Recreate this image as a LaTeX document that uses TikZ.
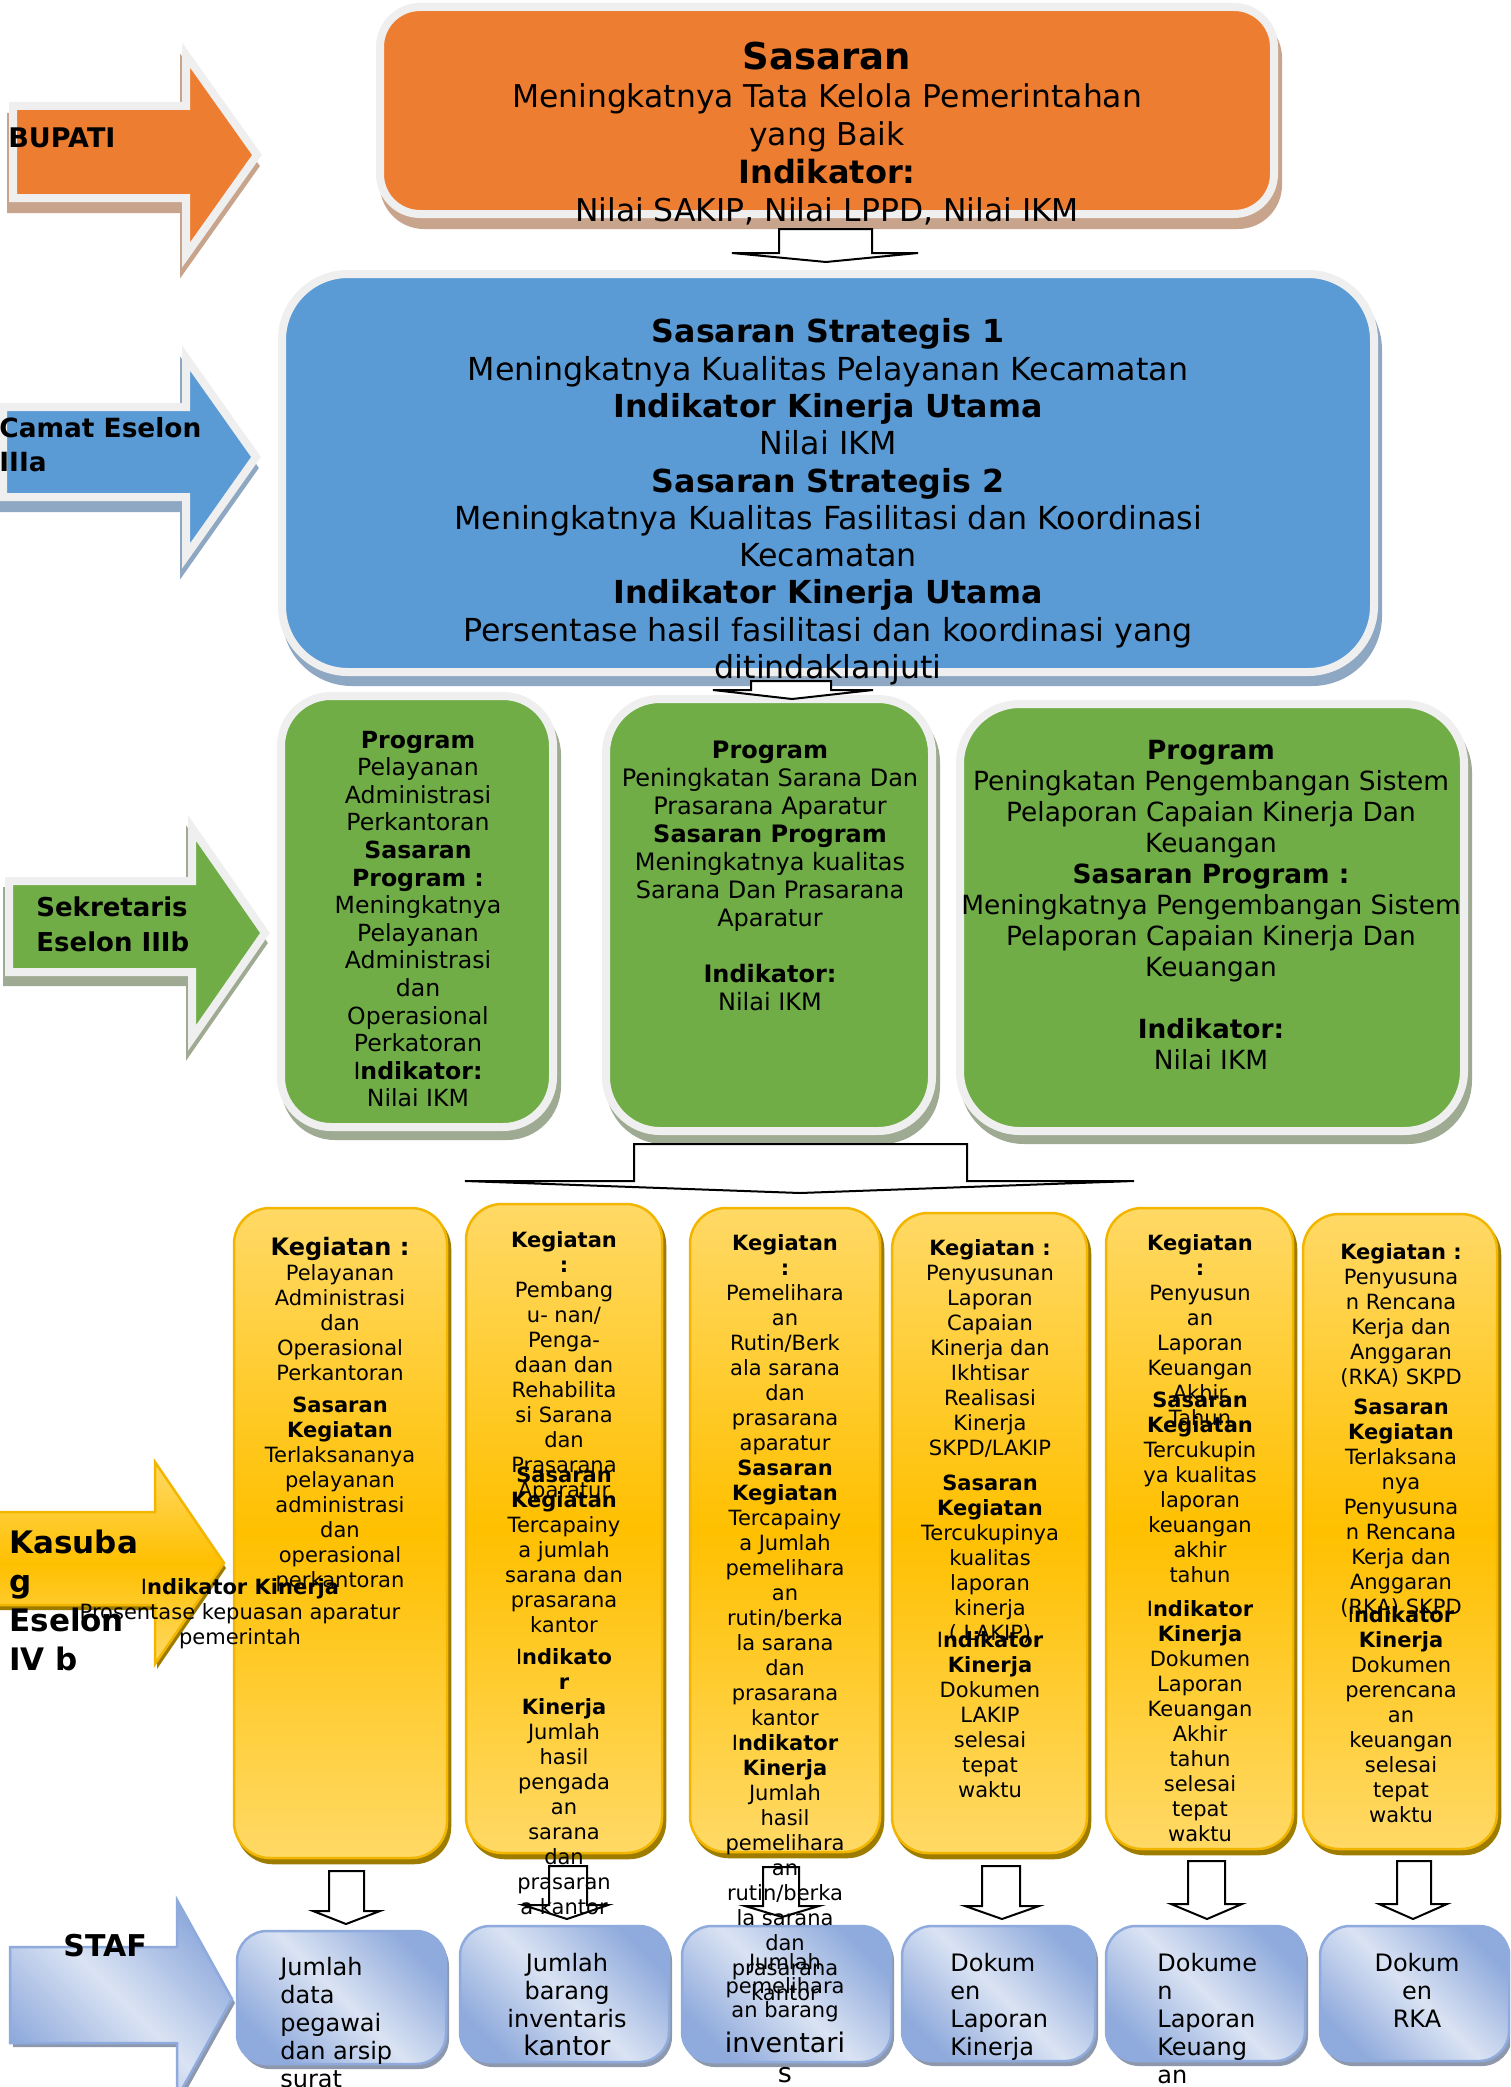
\documentclass[tikz,border=0pt]{standalone}
\usepackage{fontspec}
\setmainfont{DejaVu Sans}
\usetikzlibrary{calc}
\newcommand\fsz[2]{\fontsize{#1}{#2}\selectfont}
\newcommand\fl{\rule{0pt}{.8em}}
\newcommand\rI{{\mdseries I}}
\definecolor{orng}{HTML}{ED7D31}
\definecolor{orngsh}{HTML}{C9A48C}
\definecolor{blu}{HTML}{5B9BD5}
\definecolor{blush}{HTML}{8EA7C2}
\definecolor{grn}{HTML}{70AD47}
\definecolor{grnsh}{HTML}{9EAA92}
\definecolor{lgb}{HTML}{EFEFEF}
\definecolor{ylt}{HTML}{FFD966}
\definecolor{ystr}{HTML}{FFC000}
\definecolor{yedge}{HTML}{F2B600}
\definecolor{ysh}{HTML}{9E7C00}
\definecolor{slt}{HTML}{DAE3F3}
\definecolor{sdk}{HTML}{8FAADC}
\definecolor{ssh}{HTML}{8E98AD}
\tikzset{
  txt/.style={inner sep=0pt, anchor=north, align=center},
  ltxt/.style={inner sep=0pt, anchor=north west, align=left},
  yt/.style={txt, font=\fsz{10.5}{12.5}},
  st/.style={font=\fsz{12}{14}},
  harrow/.style={draw=black, fill=white, line width=1pt, line join=miter},
  lbord/.style={draw=lgb, line width=4pt},
  shad/.style={fill=#1, draw=#1, line width=4pt},
  ybox/.style={top color=ylt, bottom color=ylt, middle color=ystr, draw=yedge, line width=1.25pt, rounded corners=18pt},
  yshad/.style={fill=ysh, draw=ysh, line width=1.25pt, rounded corners=18pt},
  sbox/.style={top color=sdk, bottom color=sdk, middle color=slt, shading angle=-45, draw=sdk, line width=1.25pt, rounded corners=15pt},
  sshad/.style={fill=ssh, rounded corners=15pt},
}
% name, style, x1, y1, x2, y2
\newcommand\rbox[6]{\path[#2] (#3,#4) rectangle (#5,#6); \coordinate (#1) at ({(#3+#5)/2},{(#4+#6)/2});}
% style, x0, bodytop, bodybot, headx, headtop, tipx, tipy
\newcommand\rarrow[8]{\path[#1] (#2,#3) -- (#5,#3) -- (#5,#6) -- (#7,#8) -- (#5,{2*#8-#6}) -- (#5,#4) -- (#2,#4) -- cycle;}
% name, sx1, sx2, top, hy, hx1, hx2, tipx, tipy
\newcommand\darrow[9]{\draw[harrow] (#2,#4) -- (#3,#4) -- (#3,#5) -- (#7,#5) -- (#8,#9) -- (#6,#5) -- (#2,#5) -- cycle; \coordinate (#1) at (#8,#9);}
\begin{document}
\begin{tikzpicture}[x=0.5pt,y=-0.5pt]
\useasboundingbox (0,0) rectangle (1510,2087);
\clip (0,0) rectangle (1510,2087);
\fill[white] (0,0) rectangle (1510,2087);

% ---------- big boxes ----------
\path[shad=orngsh, rounded corners=20pt, shift={(4,11)}] (380,7) rectangle (1274,214);
\rbox{top}{fill=orng, lbord, rounded corners=20pt}{380}{7}{1274}{214}
\path[shad=blush, rounded corners=33pt, shift={(4,10)}] (282,274) rectangle (1374,672);
\rbox{strat}{fill=blu, lbord, rounded corners=33pt}{282}{274}{1374}{672}
\path[shad=grnsh, rounded corners=25pt, shift={(4,9)}] (281,696) rectangle (553,1127);
\rbox{g1}{fill=grn, lbord, rounded corners=25pt}{281}{696}{553}{1127}
\path[shad=grnsh, rounded corners=27pt, shift={(4,9)}] (606,699) rectangle (932,1131);
\rbox{g2}{fill=grn, lbord, rounded corners=27pt}{606}{699}{932}{1131}
\path[shad=grnsh, rounded corners=30pt, shift={(4,9)}] (960,704) rectangle (1464,1131);
\rbox{g3}{fill=grn, lbord, rounded corners=30pt}{960}{704}{1464}{1131}

% ---------- level arrows ----------
\rarrow{shad=orngsh, shift={(-2,11)}}{13}{106}{198}{186}{55}{257}{155}
\rarrow{fill=orng, lbord}{13}{106}{198}{186}{55}{257}{155}
\rarrow{shad=blush, shift={(-2,11)}}{3}{407}{497}{186}{358}{256}{457}
\rarrow{fill=blu, lbord}{3}{407}{497}{186}{358}{256}{457}
\rarrow{shad=grnsh, shift={(-2,10)}}{9}{881}{972}{192}{828}{265}{933}
\rarrow{fill=grn, lbord}{9}{881}{972}{192}{828}{265}{933}
\rarrow{fill=ysh, shift={(2,5)}}{-10}{1512}{1605}{155}{1462}{224}{1563}
\rarrow{top color=ylt, bottom color=ylt, middle color=ystr, draw=yedge, line width=1.25pt}{-10}{1512}{1605}{155}{1462}{224}{1563}
\rarrow{fill=ssh, shift={(3,4)}}{10}{1947}{2043}{177}{1900}{232}{1999}
\rarrow{top color=sdk, bottom color=sdk, middle color=slt, shading angle=-45, draw=sdk, line width=1.25pt}{10}{1947}{2043}{177}{1900}{232}{1999}

% ---------- yellow boxes ----------
\path[yshad, shift={(3,5)}] (234,1208) rectangle (447,1858);
\rbox{y1}{ybox}{234}{1208}{447}{1858}
\path[yshad, shift={(3,5)}] (466,1204) rectangle (662,1853);
\rbox{y2}{ybox}{466}{1204}{662}{1853}
\path[yshad, shift={(3,5)}] (690,1208) rectangle (880,1852);
\rbox{y3}{ybox}{690}{1208}{880}{1852}
\path[yshad, shift={(3,5)}] (892,1213) rectangle (1087,1853);
\rbox{y4}{ybox}{892}{1213}{1087}{1853}
\path[yshad, shift={(3,5)}] (1106,1208) rectangle (1293,1849);
\rbox{y5}{ybox}{1106}{1208}{1293}{1849}
\path[yshad, shift={(3,5)}] (1303,1214) rectangle (1497,1849);
\rbox{y6}{ybox}{1303}{1214}{1497}{1849}

% ---------- staff boxes ----------
\path[sshad, shift={(3,5)}] (237,1931) rectangle (446,2064);
\rbox{s1}{sbox}{237}{1931}{446}{2064}
\path[sshad, shift={(3,5)}] (460,1926) rectangle (669,2062);
\rbox{s2}{sbox}{460}{1926}{669}{2062}
\path[sshad, shift={(3,5)}] (682,1926) rectangle (891,2062);
\rbox{s3}{sbox}{682}{1926}{891}{2062}
\path[sshad, shift={(3,5)}] (902,1926) rectangle (1095,2061);
\rbox{s4}{sbox}{902}{1926}{1095}{2061}
\path[sshad, shift={(3,5)}] (1106,1926) rectangle (1305,2061);
\rbox{s5}{sbox}{1106}{1926}{1305}{2061}
\path[sshad, shift={(3,5)}] (1320,1926) rectangle (1509,2061);
\rbox{s6}{sbox}{1320}{1926}{1509}{2061}

% ---------- hollow down arrows ----------
\darrow{d1}{779}{872}{229}{253}{732}{918}{826}{262}
\darrow{d2}{751}{831}{681}{690}{713}{873}{792}{699}
\darrow{d3}{634}{967}{1144}{1181}{465}{1134}{800}{1193}
\darrow{a1}{329}{364}{1871}{1911}{313}{380}{346}{1924}
\darrow{a2}{549}{587}{1866}{1905}{523}{608}{567}{1919}
\darrow{a3}{763}{799}{1867}{1906}{745}{819}{782}{1917}
\darrow{a4}{982}{1020}{1866}{1906}{965}{1039}{1002}{1919}
\darrow{a5}{1188}{1225}{1861}{1904}{1171}{1242}{1207}{1919}
\darrow{a6}{1397}{1431}{1861}{1904}{1379}{1447}{1413}{1919}

% ---------- arrow labels ----------
\node[ltxt, font=\fsz{13.5}{17}\bfseries] (lbup) at (8,125.3) {\fl BUPATI};
\node[ltxt, font=\fsz{13.2}{17}\bfseries] (lcam) at (-1,415.6) {\fl Camat Eselon\\ IIIa};
\node[ltxt, font=\fsz{13}{17.5}\bfseries] (lsek) at (36,894.8) {\fl Sekretaris\\ Eselon IIIb};
\node[ltxt, font=\fsz{15.5}{19.5}\bfseries] (lkas) at (9,1528.4) {\fl Kasuba\\ g\\ Eselon\\ IV b};
\node[ltxt, font=\fsz{15}{18}\bfseries] (lstaf) at (63,1931.9) {\fl STAF};

% ---------- top texts ----------
\node[txt, font=\fsz{15.7}{19}] (ttop) at (827,39.6) {{\fsz{18.5}{19}\bfseries\fl Sasaran}\\ Meningkatnya Tata Kelola Pemerintahan\\ yang Baik\\ {\fsz{16}{19}\bfseries Indikator:}\\ Nilai SAKIP, Nilai LPPD, Nilai IKM};
\node[txt, font=\fsz{15.85}{18.65}] (tstrat) at (828,317.1) {{\bfseries\fl Sasaran Strategis 1}\\ Meningkatnya Kualitas Pelayanan Kecamatan\\ {\bfseries Indikator Kinerja Utama}\\ Nilai IKM\\ {\bfseries Sasaran Strategis 2}\\ Meningkatnya Kualitas Fasilitasi dan Koordinasi\\ Kecamatan\\ {\bfseries Indikator Kinerja Utama}\\ Persentase hasil fasilitasi dan koordinasi yang\\ ditindaklanjuti};

% ---------- green texts ----------
\node[txt, font=\fsz{11.8}{13.8}] (tg1) at (418,728.9) {{\bfseries\fl Program}\\ Pelayanan\\ Administrasi\\ Perkantoran\\ {\bfseries Sasaran}\\ {\bfseries Program :}\\ Meningkatnya\\ Pelayanan\\ Administrasi\\ dan\\ Operasional\\ Perkatoran\\ {\bfseries\rI ndikator:}\\ Nilai IKM};
\node[txt, font=\fsz{12}{14}] (tg2) at (770,738.7) {{\bfseries\fl Program}\\ Peningkatan Sarana Dan\\ Prasarana Aparatur\\ {\bfseries Sasaran Program}\\ Meningkatnya kualitas\\ Sarana Dan Prasarana\\ Aparatur\\ \mbox{}\\ {\bfseries Indikator:}\\ Nilai IKM};
\node[txt, font=\fsz{13.2}{15.5}] (tg3) at (1211,737.6) {{\bfseries\fl Program}\\ Peningkatan Pengembangan Sistem\\ Pelaporan Capaian Kinerja Dan\\ Keuangan\\ {\bfseries Sasaran Program :}\\ Meningkatnya Pengembangan Sistem\\ Pelaporan Capaian Kinerja Dan\\ Keuangan\\ \mbox{}\\ {\bfseries Indikator:}\\ Nilai IKM};

% ---------- yellow texts ----------
\node[yt] (ty1a) at (340,1235.7) {{\fsz{12}{12.5}\bfseries\fl Kegiatan :}\\ Pelayanan\\ Administrasi\\ dan\\ Operasional\\ Perkantoran};
\node[yt] (ty1b) at (340,1395.1) {{\bfseries\fl Sasaran}\\ {\bfseries Kegiatan}\\ Terlaksananya\\ pelayanan\\ administrasi\\ dan\\ operasional\\ perkantoran};
\node[yt] (ty1c) at (240,1577.1) {{\bfseries\fl\rI ndikator Kinerja}\\ Prosentase kepuasan aparatur\\ pemerintah};

\node[yt] (ty2a) at (564,1230.1) {{\bfseries\fl Kegiatan}\\ {\bfseries :}\\ Pembang\\ u- nan/\\ Penga-\\ daan dan\\ Rehabilita\\ si Sarana\\ dan\\ Prasarana\\ Aparatur};
\node[yt] (ty2b) at (564,1465.1) {{\bfseries\fl Sasaran}\\ {\bfseries Kegiatan}\\ Tercapainy\\ a jumlah\\ sarana dan\\ prasarana\\ kantor};
\node[yt] (ty2c) at (564,1647.1) {{\bfseries\fl\rI ndikato}\\ {\bfseries r}\\ {\bfseries Kinerja}\\ Jumlah\\ hasil\\ pengada\\ an\\ sarana\\ dan\\ prasaran\\ a kantor};

\node[yt] (ty3) at (785,1233.1) {{\bfseries\fl Kegiatan}\\ {\bfseries :}\\ Pemelihara\\ an\\ Rutin/Berk\\ ala sarana\\ dan\\ prasarana\\ aparatur\\ {\bfseries Sasaran}\\ {\bfseries Kegiatan}\\ Tercapainy\\ a Jumlah\\ pemelihara\\ an\\ rutin/berka\\ la sarana\\ dan\\ prasarana\\ kantor\\ {\bfseries\rI ndikator}\\ {\bfseries Kinerja}\\ Jumlah\\ hasil\\ pemelihara\\ an\\ rutin/berka\\ la sarana\\ dan\\ prasarana\\ kantor};

\node[yt] (ty4a) at (990,1238.1) {{\bfseries\fl Kegiatan :}\\ Penyusunan\\ Laporan\\ Capaian\\ Kinerja dan\\ Ikhtisar\\ Realisasi\\ Kinerja\\ SKPD/LAKIP};
\node[yt] (ty4b) at (990,1473.1) {{\bfseries\fl Sasaran}\\ {\bfseries Kegiatan}\\ Tercukupinya\\ kualitas\\ laporan\\ kinerja\\ ( LAKIP)};
\node[yt] (ty4c) at (990,1630.1) {{\bfseries\fl\rI ndikator}\\ {\bfseries Kinerja}\\ Dokumen\\ LAKIP\\ selesai\\ tepat\\ waktu};

\node[yt] (ty5a) at (1200,1233.1) {{\bfseries\fl Kegiatan}\\ {\bfseries :}\\ Penyusun\\ an\\ Laporan\\ Keuangan\\ Akhir\\ Tahun};
\node[yt] (ty5b) at (1200,1390.1) {{\bfseries\fl Sasaran}\\ {\bfseries Kegiatan}\\ Tercukupin\\ ya kualitas\\ laporan\\ keuangan\\ akhir\\ tahun};
\node[yt] (ty5c) at (1200,1599.1) {{\bfseries\fl\rI ndikator}\\ {\bfseries Kinerja}\\ Dokumen\\ Laporan\\ Keuangan\\ Akhir\\ tahun\\ selesai\\ tepat\\ waktu};

\node[yt] (ty6a) at (1401,1242.1) {{\bfseries\fl Kegiatan :}\\ Penyusuna\\ n Rencana\\ Kerja dan\\ Anggaran\\ (RKA) SKPD};
\node[yt] (ty6b) at (1401,1397.1) {{\bfseries\fl Sasaran}\\ {\bfseries Kegiatan}\\ Terlaksana\\ nya\\ Penyusuna\\ n Rencana\\ Kerja dan\\ Anggaran\\ (RKA) SKPD};
\node[yt] (ty6c) at (1401,1605.1) {{\bfseries\fl\rI ndikator}\\ {\bfseries Kinerja}\\ Dokumen\\ perencana\\ an\\ keuangan\\ selesai\\ tepat\\ waktu};

% ---------- staff texts ----------
\node[ltxt, st] (ts1) at (280,1955.7) {\fl Jumlah\\ data\\ pegawai\\ dan arsip\\ surat};
\node[txt, st] (ts2) at (567,1951.7) {\fl Jumlah\\ barang\\ inventaris\\ {\fsz{13.5}{14}kantor}};
\node[txt, font=\fsz{10.5}{12}] (ts3) at (785,1952.1) {\fl Jumlah\\ pemelihara\\ an barang\\[4pt] {\fsz{13.5}{14}inventari}\\[3pt] {\fsz{13.5}{14}s}};
\node[ltxt, st] (ts4) at (950,1951.7) {\fl Dokum\\ en\\ Laporan\\ Kinerja};
\node[ltxt, st] (ts5) at (1157,1951.7) {\fl Dokume\\ n\\ Laporan\\ Keuang\\ an};
\node[txt, st] (ts6) at (1417,1951.7) {\fl Dokum\\ en\\ RKA};
\end{tikzpicture}
\end{document}
